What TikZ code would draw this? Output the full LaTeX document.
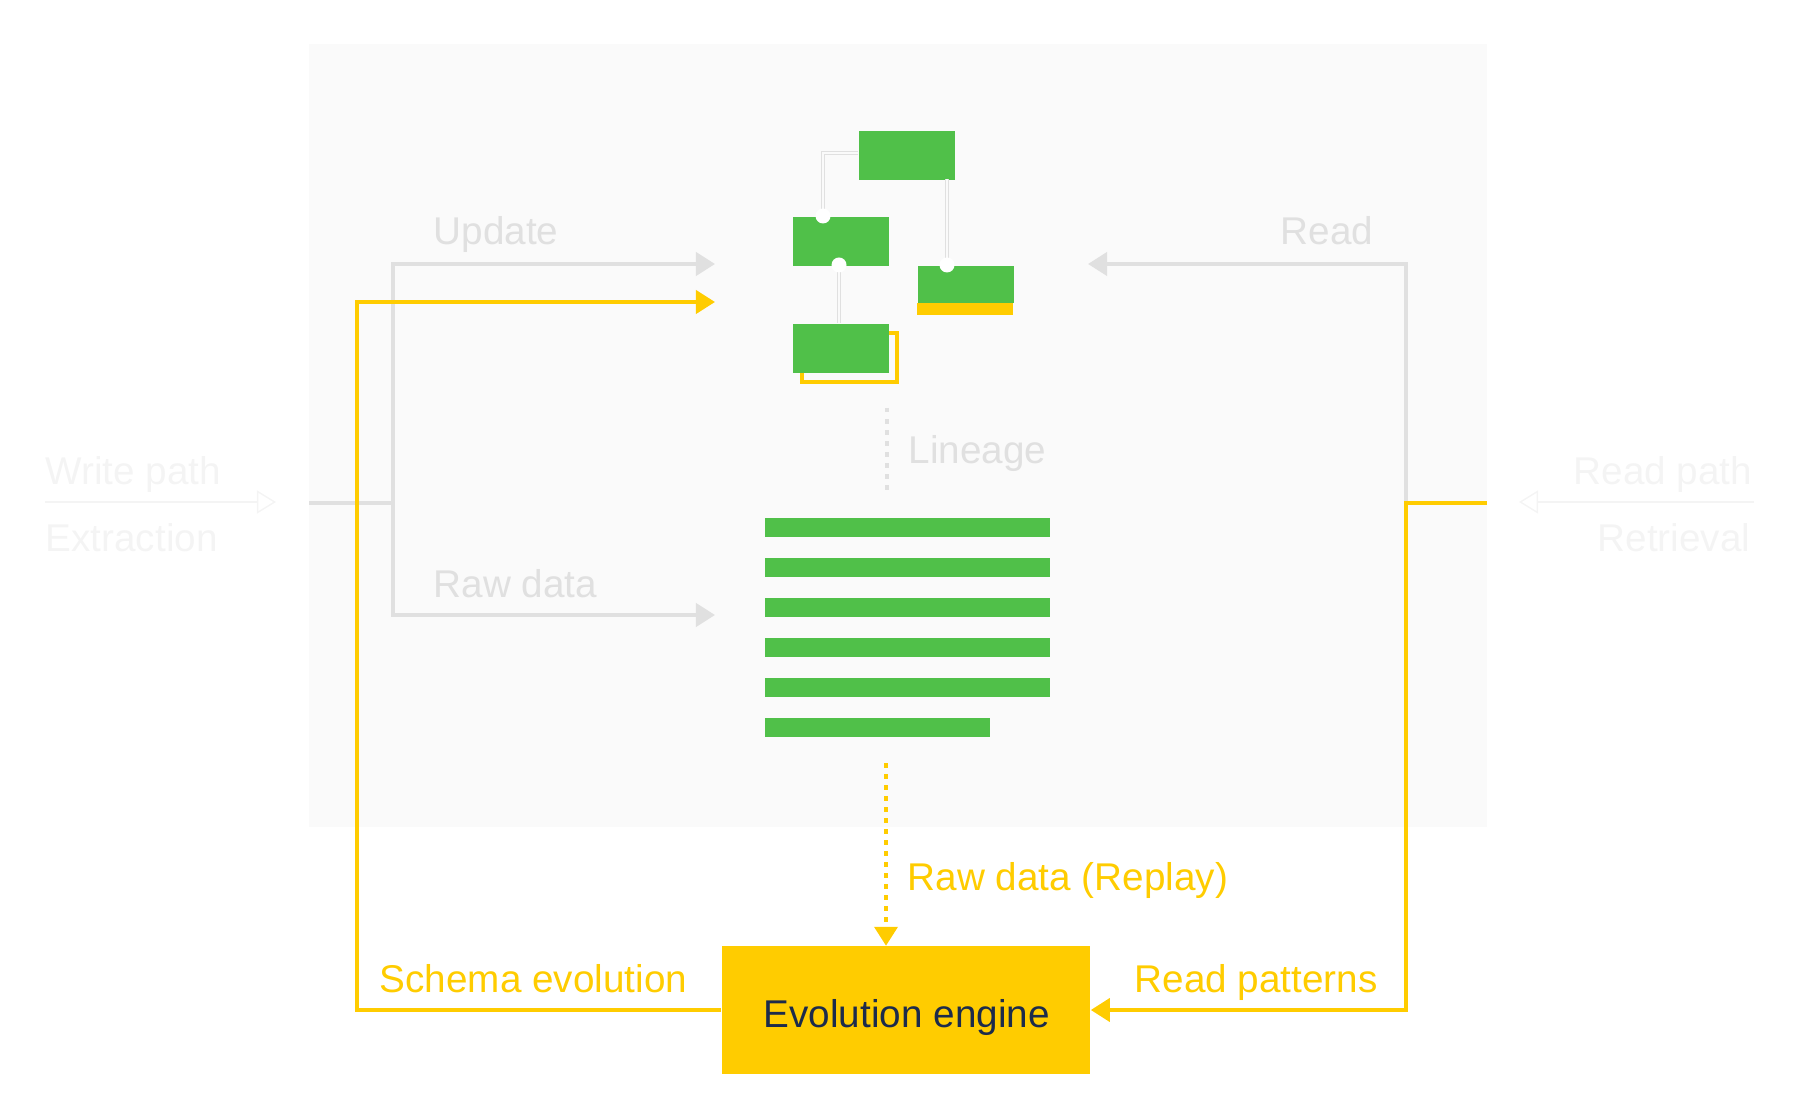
\documentclass[tikz,border=0pt]{standalone}
\usepackage{fontspec}
\setmainfont{Liberation Sans}
\usetikzlibrary{arrows.meta,positioning}

\definecolor{panelgray}{HTML}{FAFAFA}
\definecolor{linegray}{HTML}{E0E0E0}
\definecolor{ghostgray}{HTML}{F4F4F4}
\definecolor{leafgreen}{HTML}{50C049}
\definecolor{signyellow}{HTML}{FFCC00}
\definecolor{inknavy}{HTML}{1C2B4B}

\tikzset{
  treebox/.style={fill=leafgreen, inner sep=0pt, minimum width=0.96cm, minimum height=0.49cm, anchor=north west},
  barbox/.style={fill=leafgreen, inner sep=0pt, minimum height=0.19cm, anchor=north west},
  knot/.style={circle, fill=white, inner sep=0pt, minimum size=0.15cm},
  treelink/.style={draw=linegray, line width=0.45pt, double=panelgray, double distance=0.5pt},
  flowgray/.style={draw=linegray, line width=1.1pt},
  flowyellow/.style={draw=signyellow, line width=1.1pt},
  tipfill/.style={-{Triangle[length=0.19cm,width=0.23cm]}},
  tipopen/.style={-{Triangle[open,length=0.19cm,width=0.23cm]}},
  lbl/.style={inner sep=0pt, anchor=base west, font=\fontsize{11}{13}\selectfont},
  graylbl/.style={lbl, text=linegray},
  yellowlbl/.style={lbl, text=signyellow},
  ghostlbl/.style={lbl, text=ghostgray}
}

\begin{document}
\begin{tikzpicture}[x=0.01cm, y=-0.01cm, >=Triangle]
  \useasboundingbox (0,0) rectangle (1800,1119);

  % Panel
  \fill[panelgray] (309,44) rectangle (1487,827);

  % Outside hints
  \node[ghostlbl] (writepath) at (45,485) {Write path};
  \node[ghostlbl] (extraction) at (45,552) {Extraction};
  \node[ghostlbl, anchor=base east] (readpath) at (1753,485) {Read path};
  \node[ghostlbl, anchor=base east] (retrieval) at (1751,552) {Retrieval};
  \coordinate (wstart) at (45,502);
  \coordinate (wtip) at (276,502);
  \coordinate (rstart) at (1754,502);
  \coordinate (rtip) at (1519,502);
  \draw[draw=ghostgray, line width=0.4pt, tipopen] (wstart) -- (wtip);
  \draw[draw=ghostgray, line width=0.4pt, tipopen] (rstart) -- (rtip);

  % Split points and arrow ends
  \coordinate (wsplit) at (393,503);
  \coordinate (wedge) at (309,503);
  \coordinate (updtip) at (715,264);
  \coordinate (rawtip) at (715,615);
  \coordinate (schtip) at (715,302);
  \coordinate (schcorner) at (357,302);
  \coordinate (rsplit) at (1406,503);
  \coordinate (redge) at (1487,503);
  \coordinate (readtip) at (1088,264);

  % Gray flows
  \draw[flowgray] (wedge) -- (wsplit);
  \draw[flowgray, tipfill] (wsplit) |- (updtip);
  \draw[flowgray, tipfill] (wsplit) |- (rawtip);
  \draw[flowgray, tipfill] (rsplit) |- (readtip);

  % Tree of records
  \draw[signyellow, line width=1.2pt] (802,333) rectangle (897,382);
  \node[treebox] (root) at (858,130) {};
  \node[treebox] (mid) at (792,216) {};
  \node[treebox, minimum height=0.37cm] (side) at (917,265) {};
  \node[treebox] (leaf) at (792,323) {};
  \fill[signyellow] (side.south west) rectangle ++(96,12);
  \coordinate (rootbend) at (823,153);
  \draw[treelink] (root.west |- rootbend) -- (rootbend) -- (rootbend |- mid.north);
  \draw[treelink] (947,179) -- (947,265);
  \draw[treelink] (839,265) -- (839,323);
  \node[knot] (k1) at (823,216) {};
  \node[knot] (k2) at (839,265) {};
  \node[knot] (k3) at (947,265) {};

  % Raw data rows
  \foreach \i in {0,...,4}
    \node[barbox, minimum width=2.85cm] (bar\i) at (764,517+40*\i) {};
  \node[barbox, minimum width=2.25cm] (bar5) at (764,717) {};

  % Lineage
  \coordinate (linetop) at (887,408);
  \coordinate (linebot) at (887,495);
  \draw[linegray, line width=0.9pt, dash pattern=on 0.045cm off 0.065cm] (linetop) -- (linebot);

  % Engine
  \node[fill=signyellow, inner sep=0pt, minimum width=3.68cm, minimum height=1.27cm] (engine) at (906,1010) {};
  \node[lbl, text=inknavy] (enginelbl) at (763,1027) {Evolution engine};

  % Yellow flows
  \coordinate (replaytop) at (886,763);
  \draw[flowyellow, dash pattern=on 0.045cm off 0.065cm, tipfill] (replaytop) -- (replaytop |- engine.north);
  \draw[flowyellow, tipfill] (engine.west) -| (schcorner) -- (schtip);
  \draw[flowyellow, tipfill] (redge) -- (rsplit) |- (engine.east);

  % Labels
  \node[graylbl] (updatelbl) at (433,245) {Update};
  \node[graylbl, anchor=base east] (readlbl) at (1374,245) {Read};
  \node[graylbl] (lineagelbl) at (908,464) {Lineage};
  \node[graylbl] (rawlbl) at (433,598) {Raw data};
  \node[yellowlbl] (replaylbl) at (907,890) {Raw data (Replay)};
  \node[yellowlbl] (schemalbl) at (379,992) {Schema evolution};
  \node[yellowlbl] (patternlbl) at (1134,992) {Read patterns};
\end{tikzpicture}
\end{document}
